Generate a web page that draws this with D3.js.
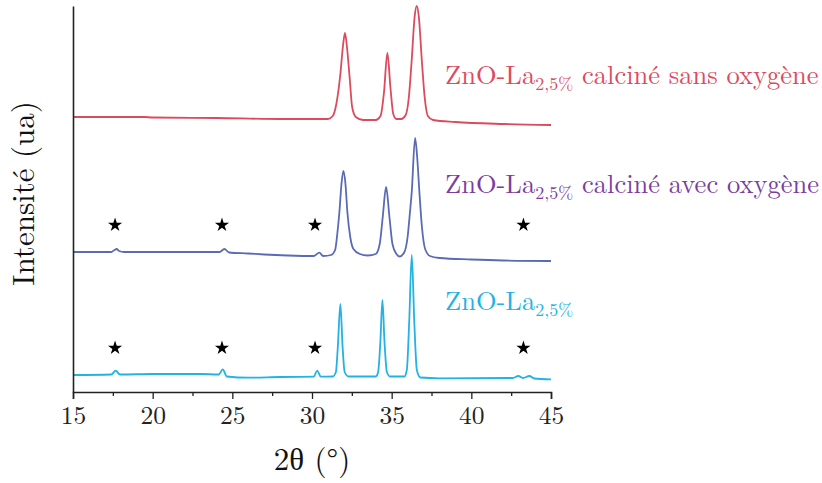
<!DOCTYPE html>
<html><head><meta charset="utf-8">
<script src="https://cdn.jsdelivr.net/npm/d3@7"></script>
</head><body style="margin:0;background:#fff">
<svg id="c" width="822" height="483" font-family="Latin Modern Roman, Liberation Serif, serif"></svg>
<script>
// 2θ (°) vs intensity (arbitrary units, already offset per curve)
const sansOxygene = [[15,275],[19.5,275],[20,274.5],[24,274],[28,273],[31.0,273],[31.3,276],[31.55,290],[31.78,318],[31.95,347],[32.07,359],[32.2,344],[32.36,315],[32.52,285],[32.75,275],[33.2,272],[34.0,272],[34.3,276],[34.52,300],[34.73,339],[34.92,305],[35.1,278],[35.3,273],[35.6,273],[35.88,277],[36.08,295],[36.25,330],[36.44,375],[36.57,386],[36.7,376],[36.9,330],[37.07,295],[37.27,276],[37.6,272],[39,270],[42,268],[45,267]];
const avecOxygene = [[15,140],[17.4,140],[17.6,142],[17.74,143],[17.9,141],[18.2,140],[22,140],[24.2,140],[24.5,143],[24.8,139.5],[26,138.5],[27,137.5],[28.5,136.5],[30.1,136],[30.46,139.3],[30.7,136],[31.2,137],[31.45,142],[31.6,160],[31.72,180],[31.85,208],[31.97,221],[32.1,208],[32.22,180],[32.4,155],[32.6,143],[33.0,138],[33.5,136.5],[34.0,138],[34.25,148],[34.44,175],[34.65,205],[34.86,175],[35.05,148],[35.3,138],[35.5,135.5],[35.8,140],[36.0,155],[36.15,180],[36.26,200],[36.47,254],[36.6,235],[36.74,200],[36.9,165],[37.1,143],[37.4,136],[38,134],[40,132.5],[42,131.5],[45,131]];
const znoLa = [[15,17],[17.4,17.5],[17.68,21.3],[17.95,17.5],[20,18],[23,18],[24.15,17.5],[24.4,22.7],[24.65,15.5],[26,14.3],[28,15],[30.1,15.3],[30.33,21.3],[30.55,15.3],[31.3,15.5],[31.5,20],[31.62,45],[31.78,88],[31.92,45],[32.05,20],[32.3,15.5],[34.0,15.5],[34.15,20],[34.29,50],[34.42,92],[34.55,50],[34.7,20],[34.9,15.5],[35.8,15.5],[35.95,22],[36.1,70],[36.26,137],[36.42,70],[36.58,22],[36.8,14.5],[38,13.7],[42.6,14],[42.95,16],[43.25,14],[43.64,16],[43.95,13.5],[45,12.7]];
const starThetas = [17.64, 24.35, 30.19, 43.27];
const starLevels = [168, 45];
const xTicks = [15, 20, 25, 30, 35, 40, 45];
const xMinorTicks = [17.5, 22.5, 27.5, 32.5, 37.5, 42.5];
const series = [
  {name:"sans", data:sansOxygene, color:"#dd4a5e", textColor:"#dd4a5e", label:["ZnO-La","2,5%"," calciné sans oxygène"], labelY:308},
  {name:"avec", data:avecOxygene, color:"#5b6ab4", textColor:"#7a3e9f", label:["ZnO-La","2,5%"," calciné avec oxygène"], labelY:199},
  {name:"zno", data:znoLa, color:"#22b2e3", textColor:"#22b2e3", label:["ZnO-La","2,5%",""], labelY:82}
];
const FONT = "Latin Modern Roman, Liberation Serif, serif";

const svg = d3.select("#c");
const x = d3.scaleLinear().domain([15,45]).range([73,551]);
const y = d3.scaleLinear().domain([0,386]).range([392,6]);

const line = d3.line().x(d=>x(d[0])).y(d=>y(d[1])).curve(d3.curveMonotoneX);
series.forEach(s=>{
  svg.append("path").attr("d", line(s.data)).attr("fill","none")
    .attr("stroke", s.color).attr("stroke-width",1.8).attr("stroke-linejoin","round");
});

// axes
const xAxis = d3.axisBottom(x).tickValues(xTicks).tickSize(7).tickPadding(7).tickFormat(d3.format("d"));
const gx = svg.append("g").attr("transform",`translate(0,${y(0)})`).call(xAxis)
  .attr("font-family",FONT).attr("font-size",25.5);
gx.select(".domain").attr("stroke","#222").attr("stroke-width",1.6);
gx.selectAll(".tick line").attr("stroke","#222").attr("stroke-width",1.3);
gx.selectAll(".tick text").attr("fill","#222");
const gxm = svg.append("g").attr("transform",`translate(0,${y(0)})`)
  .call(d3.axisBottom(x).tickValues(xMinorTicks).tickSize(4).tickFormat(""));
gxm.select(".domain").remove();
gxm.selectAll(".tick line").attr("stroke","#222").attr("stroke-width",1.3);

const yAxis = d3.axisLeft(y).tickValues([]).tickSizeOuter(0);
const gy = svg.append("g").attr("transform",`translate(${x(15)},0)`).call(yAxis);
gy.select(".domain").attr("stroke","#222").attr("stroke-width",1.6);

// titles
svg.append("text").attr("x",(x(15)+x(45))/2).attr("y",470).attr("text-anchor","middle")
  .attr("font-family",FONT).attr("font-size",31).attr("fill","#111").text("2θ (°)");
svg.append("text").attr("transform",`translate(34,${(100+287)/2}) rotate(-90)`)
  .attr("text-anchor","middle").attr("font-family",FONT).attr("font-size",31).attr("fill","#111")
  .text("Intensité (ua)");

// stars
const star = d3.symbol().type(d3.symbolStar).size(62);
starLevels.forEach(lv=>{
  starThetas.forEach(t=>{
    svg.append("path").attr("d",star()).attr("fill","#000")
      .attr("transform",`translate(${x(t)},${y(lv)+1})`);
  });
});

// labels
series.forEach(s=>{
  const t = svg.append("text").attr("x",445).attr("y",y(s.labelY)).attr("fill",s.textColor)
    .attr("font-family",FONT).attr("font-size",26.5);
  t.append("tspan").text(s.label[0]);
  t.append("tspan").attr("font-size",18).attr("dy",6).text(s.label[1]);
  if (s.label[2]) t.append("tspan").attr("dy",-6).text(s.label[2]);
});
</script>
</body></html>
